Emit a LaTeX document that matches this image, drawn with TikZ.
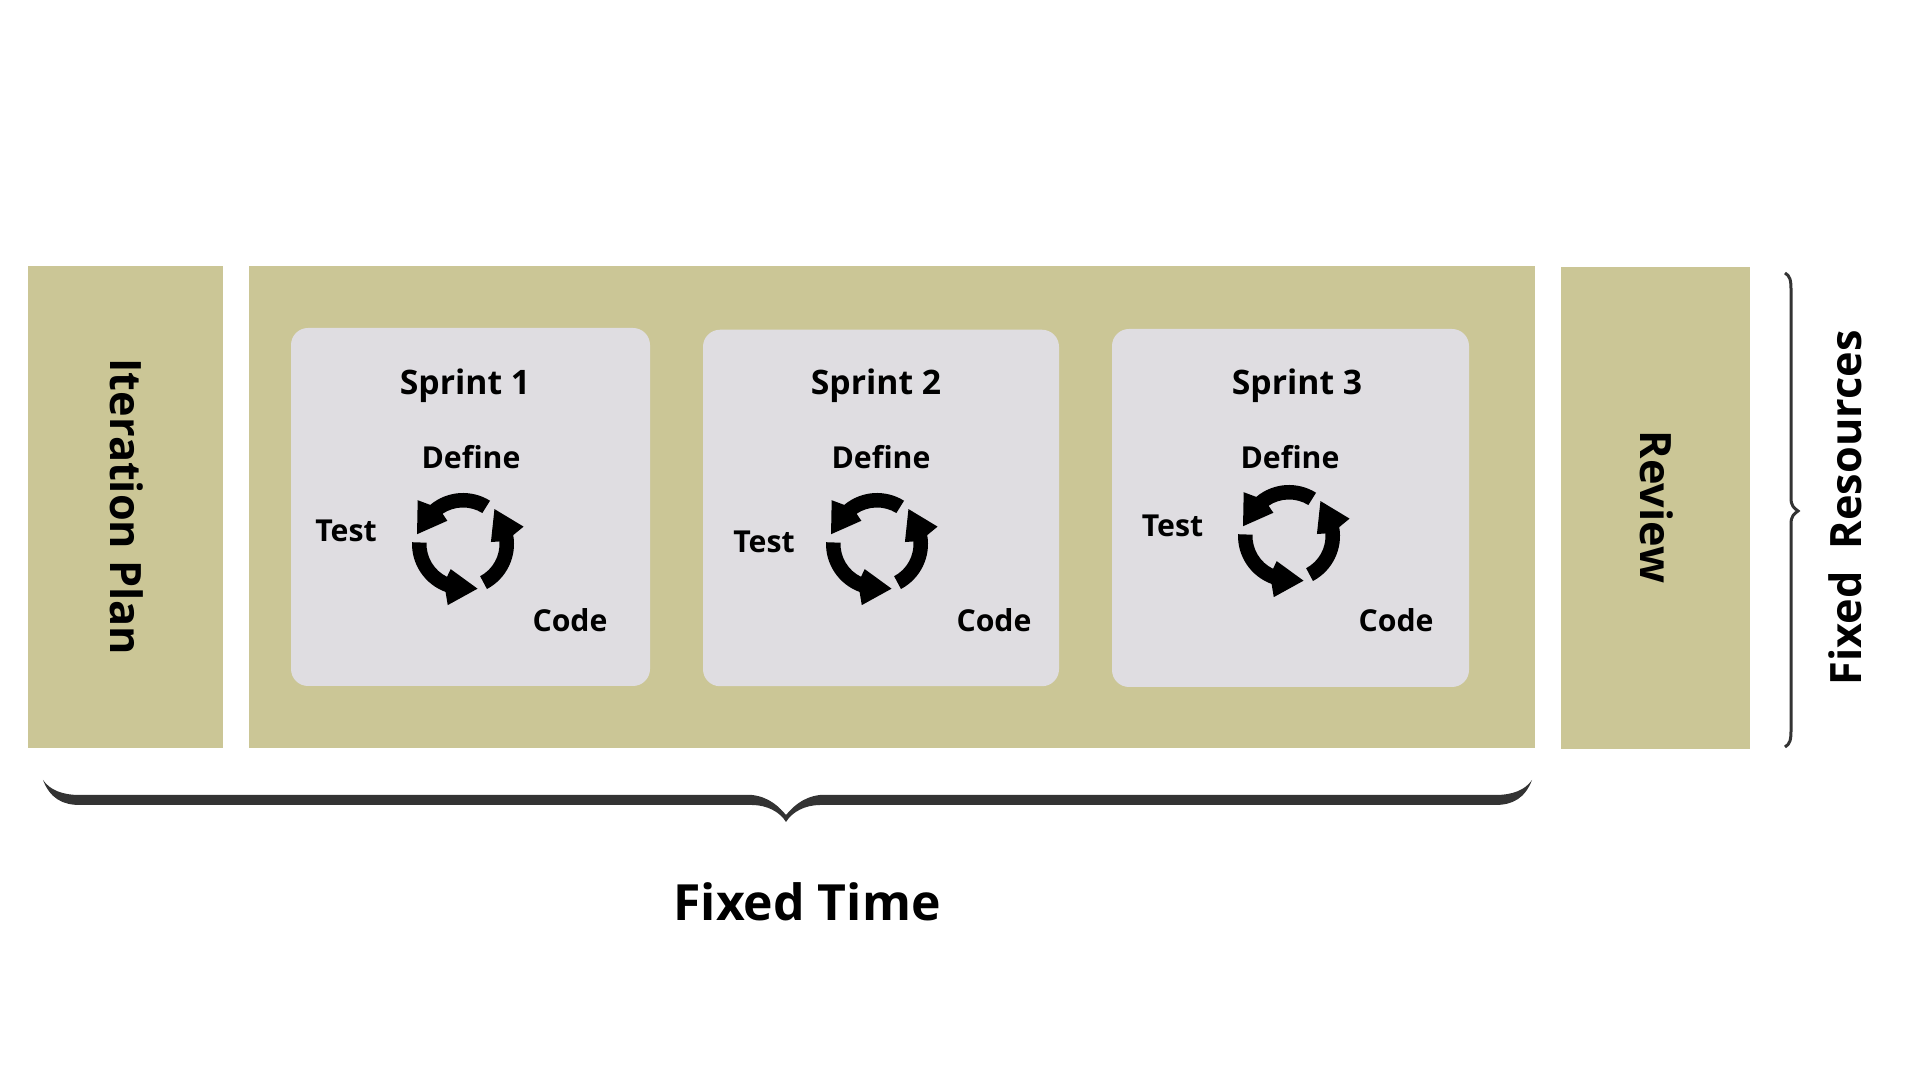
\documentclass[tikz,border=0pt]{standalone}
\usepackage{fontspec}
\setmainfont{Open Sans}
\definecolor{olive}{HTML}{CBC696}
\definecolor{cardgray}{HTML}{DFDDE1}
\definecolor{bracegray}{HTML}{333333}
\begin{document}
\begin{tikzpicture}[
        panel/.style = {fill=olive,inner sep=0,outer sep=0},
        card/.style = {fill=cardgray,rounded corners=0.17cm,inner sep=0,outer sep=0},
        title/.style = {font=\fontsize{9.6}{12}\bfseries\selectfont},
        phase/.style = {font=\fontsize{8.6}{10}\bfseries\selectfont},
        sidetext/.style = {font=\fontsize{12.3}{14}\bfseries\selectfont},
        pics/cycleicon/.style = {code={
            \fill[line join=round] (58:0.51) arc[start angle=58,end angle=130,radius=0.51] -- (136:0.63) -- (168:0.47) -- (124:0.28) -- (124:0.365) arc[start angle=124,end angle=58,radius=0.365] -- cycle;
            \fill[line join=round,rotate=120] (58:0.51) arc[start angle=58,end angle=130,radius=0.51] -- (136:0.63) -- (168:0.47) -- (124:0.28) -- (124:0.365) arc[start angle=124,end angle=58,radius=0.365] -- cycle;
            \fill[line join=round,rotate=240] (58:0.51) arc[start angle=58,end angle=130,radius=0.51] -- (136:0.63) -- (168:0.47) -- (124:0.28) -- (124:0.365) arc[start angle=124,end angle=58,radius=0.365] -- cycle;
        }}]
                \useasboundingbox (0,0) rectangle (19.2,10.8);

                \node[panel,minimum width=1.95cm,minimum height=4.82cm] (plan) at (1.255,5.73) {};
                \node[panel,minimum width=12.86cm,minimum height=4.82cm] (main) at (8.92,5.73) {};
                \node[panel,minimum width=1.89cm,minimum height=4.82cm] (review) at (16.555,5.72) {};

                \node[sidetext,rotate=-90] (planlabel) at (1.27,5.73) {Iteration Plan};
                \node[sidetext,rotate=-90] (reviewlabel) at (16.57,5.73) {Review};
                \node[sidetext,rotate=90] (resources) at (18.45,5.72) {Fixed\ \ Resources};
                \node[font=\fontsize{14.2}{17}\bfseries\selectfont] (time) at (8.07,1.78) {Fixed Time};

                \node[card,minimum width=3.59cm,minimum height=3.58cm] (card1) at (4.705,5.73) {};
                \node[card,minimum width=3.56cm,minimum height=3.565cm] (card2) at (8.81,5.72) {};
                \node[card,minimum width=3.57cm,minimum height=3.58cm] (card3) at (12.905,5.72) {};

                \node[title] (sprint1) at (4.65,6.94) {Sprint 1};
                \node[phase] (define1) at (4.71,6.23) {Define};
                \node[phase] (test1) at (3.46,5.49) {Test};
                \node[phase] (code1) at (5.70,4.60) {Code};
                \pic (cycle1) at (4.63,5.36) {cycleicon};

                \node[title] (sprint2) at (8.76,6.94) {Sprint 2};
                \node[phase] (define2) at (8.81,6.23) {Define};
                \node[phase] (test2) at (7.64,5.38) {Test};
                \node[phase] (code2) at (9.94,4.60) {Code};
                \pic (cycle2) at (8.77,5.36) {cycleicon};

                \node[title] (sprint3) at (12.97,6.94) {Sprint 3};
                \node[phase] (define3) at (12.90,6.23) {Define};
                \node[phase] (test3) at (11.725,5.54) {Test};
                \node[phase] (code3) at (13.96,4.60) {Code};
                \pic (cycle3) at (12.89,5.44) {cycleicon};

                \fill[bracegray] (0.43,3.00) .. controls (0.50,2.90) and (0.62,2.85) .. (0.80,2.85)
                    -- (7.52,2.85) .. controls (7.70,2.83) and (7.80,2.72) .. (7.86,2.65)
                    .. controls (7.92,2.72) and (8.02,2.83) .. (8.20,2.85)
                    -- (14.95,2.85) .. controls (15.13,2.85) and (15.25,2.90) .. (15.32,3.00)
                    .. controls (15.25,2.82) and (15.13,2.75) .. (14.95,2.75)
                    -- (8.20,2.75) .. controls (8.05,2.75) and (7.92,2.68) .. (7.86,2.58)
                    .. controls (7.80,2.68) and (7.67,2.75) .. (7.52,2.75)
                    -- (0.80,2.75) .. controls (0.62,2.75) and (0.50,2.82) .. (0.43,3.00) -- cycle;
                \draw[bracegray,line width=0.03cm] (17.85,8.07) .. controls (17.90,8.04) and (17.91,8.00) .. (17.91,7.90)
                    -- (17.91,5.82) .. controls (17.91,5.74) and (17.94,5.72) .. (17.98,5.69)
                    .. controls (17.94,5.66) and (17.91,5.64) .. (17.91,5.56)
                    -- (17.91,3.50) .. controls (17.91,3.40) and (17.90,3.36) .. (17.85,3.33);
            \end{tikzpicture}
\end{document}
